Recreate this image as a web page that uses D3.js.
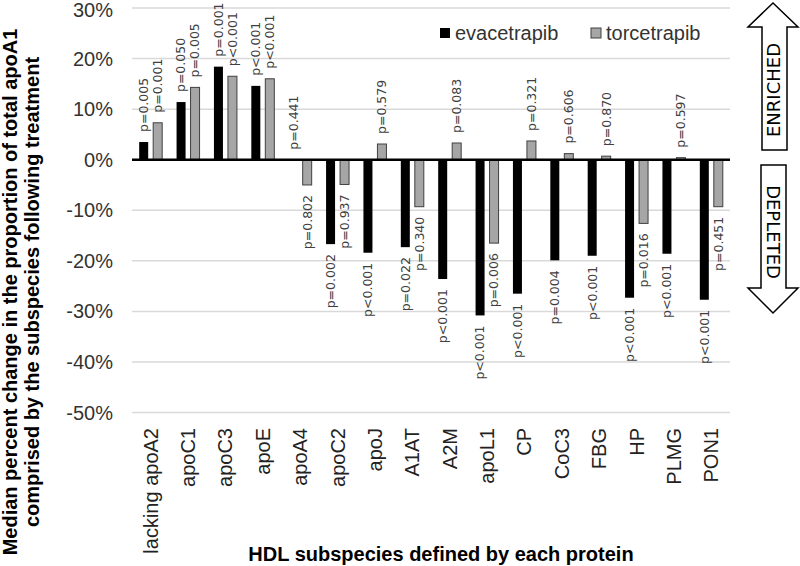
<!DOCTYPE html>
<html>
<head>
<meta charset="utf-8">
<script src="https://cdn.jsdelivr.net/npm/d3@7"></script>
<style>
  html, body { margin: 0; padding: 0; background: #fff; }
  svg { display: block; }
</style>
</head>
<body>
<script>
// ---- data ----
const categories = ["lacking apoA2","apoC1","apoC3","apoE","apoA4","apoC2","apoJ","A1AT","A2M","apoL1","CP","CoC3","FBG","HP","PLMG","PON1"];
const evacetrapib = [3.5, 11.4, 18.4, 14.6, 0, -16.7, -18.4, -17.3, -23.6, -30.8, -26.5, -19.9, -19.0, -27.3, -18.6, -27.7];
const torcetrapib = [7.3, 14.3, 16.5, 16.0, -5.0, -4.9, 3.1, -9.3, 3.3, -16.5, 3.7, 1.2, 0.7, -12.6, 0.4, -9.3];
const pEvacetrapib = ["p=0.005","p=0.050","p=0.001","p<0.001","p=0.441","p=0.002","p<0.001","p=0.022","p<0.001","p<0.001","p<0.001","p=0.004","p<0.001","p<0.001","p<0.001","p<0.001"];
const pTorcetrapib = ["p=0.001","p=0.005","p<0.001","p<0.001","p=0.802","p=0.937","p=0.579","p=0.340","p=0.083","p=0.006","p=0.321","p=0.606","p=0.870","p=0.016","p=0.597","p=0.451"];
const seriesNames = ["evacetrapib","torcetrapib"];
const yTicks = [30, 20, 10, 0, -10, -20, -30, -40, -50];

const W = 800, H = 566;
const svg = d3.select("body").append("svg").attr("width", W).attr("height", H);

const x = d3.scaleBand().domain(categories).range([132, 730]);
const xs = d3.scaleBand().domain(seriesNames).range([0, x.bandwidth()]).paddingInner(0.357).paddingOuter(0.514);
const y = d3.scaleLinear().domain([-50, 30]).range([412.5, 8]);

const fills = { evacetrapib: "#000000", torcetrapib: "#a6a6a6" };
const rows = categories.map((c, i) => ({
  cat: c,
  vals: [
    { s: "evacetrapib", v: evacetrapib[i], p: pEvacetrapib[i] },
    { s: "torcetrapib", v: torcetrapib[i], p: pTorcetrapib[i] }
  ]
}));

// gridlines
svg.append("g").selectAll("line").data(yTicks.filter(t => t !== 0)).join("line")
  .attr("x1", 132).attr("x2", 730)
  .attr("y1", d => y(d)).attr("y2", d => y(d))
  .attr("stroke", "#d9d9d9").attr("stroke-width", 1.5);

// y tick labels
svg.append("g").selectAll("text").data(yTicks).join("text")
  .attr("x", 113).attr("y", d => Math.max(y(d), 10)).attr("dy", "0.35em")
  .attr("text-anchor", "end")
  .attr("font-family", "Liberation Sans, Arial, sans-serif")
  .attr("font-size", 20).attr("fill", "#333")
  .text(d => d + "%");

// bars
const groups = svg.append("g").selectAll("g").data(rows).join("g")
  .attr("transform", d => `translate(${x(d.cat)},0)`);

groups.selectAll("rect").data(d => d.vals).join("rect")
  .attr("x", d => xs(d.s))
  .attr("width", xs.bandwidth())
  .attr("y", d => Math.min(y(d.v), y(0)))
  .attr("height", d => Math.abs(y(d.v) - y(0)))
  .attr("fill", d => fills[d.s])
  .attr("stroke", d => d.s === "torcetrapib" ? "#404040" : "none")
  .attr("stroke-width", 1);

// p-value labels
groups.selectAll("text").data(d => d.vals).join("text")
  .attr("transform", d => {
    const cx = xs(d.s) + xs.bandwidth() / 2;
    const yy = d.v >= 0 ? y(d.v) - 10 : y(d.v) + 10;
    return `translate(${cx},${yy}) rotate(-90)`;
  })
  .attr("dy", "0.35em")
  .attr("text-anchor", d => d.v >= 0 ? "start" : "end")
  .attr("font-family", "DejaVu Sans, Verdana, sans-serif")
  .attr("font-size", 12.5).attr("fill", "#404040")
  .text(d => d.p);

// zero line
svg.append("line")
  .attr("x1", 132).attr("x2", 730)
  .attr("y1", y(0)).attr("y2", y(0))
  .attr("stroke", "#000").attr("stroke-width", 2.5);

// x tick labels
svg.append("g").selectAll("text").data(categories).join("text")
  .attr("transform", d => `translate(${x(d) + x.bandwidth() / 2},428) rotate(-90)`)
  .attr("dy", "0.35em")
  .attr("text-anchor", "end")
  .attr("font-family", "Liberation Sans, Arial, sans-serif")
  .attr("font-size", 20).attr("fill", "#222")
  .text(d => d);

// axis titles
svg.append("text")
  .attr("x", 441).attr("y", 561)
  .attr("text-anchor", "middle")
  .attr("font-family", "Liberation Sans, Arial, sans-serif")
  .attr("font-size", 20).attr("font-weight", "bold").attr("fill", "#000")
  .text("HDL subspecies defined by each protein");

const yTitle = ["Median percent change in the proportion of total apoA1",
                "comprised by the subspecies following treatment"];
svg.append("g").selectAll("text").data(yTitle).join("text")
  .attr("transform", (d, i) => `translate(${10 + i * 22},292) rotate(-90)`)
  .attr("dy", "0.35em")
  .attr("text-anchor", "middle")
  .attr("font-family", "Liberation Sans, Arial, sans-serif")
  .attr("font-size", 20).attr("font-weight", "bold").attr("fill", "#000")
  .text(d => d);

// legend
const legendX = [440, 591];
const lg = svg.append("g").selectAll("g").data(seriesNames).join("g")
  .attr("transform", (d, i) => `translate(${legendX[i]},28)`);
lg.append("rect").attr("width", 10).attr("height", 10)
  .attr("fill", d => fills[d])
  .attr("stroke", d => d === "torcetrapib" ? "#404040" : "none");
lg.append("text").attr("x", 15).attr("y", 5).attr("dy", "0.35em")
  .attr("font-family", "Liberation Sans, Arial, sans-serif")
  .attr("font-size", 20).attr("fill", "#333")
  .text(d => d);

// direction arrows
const arrows = svg.append("g").attr("fill", "#fff").attr("stroke", "#000").attr("stroke-width", 1.5);
arrows.append("path").attr("d", "M773,3 L798,27 L787,27 L787,150 L762,150 L762,27 L748,27 Z");
arrows.append("path").attr("d", "M761,165 L786,165 L786,288 L798,288 L773,313 L748,288 L761,288 Z");
svg.append("text")
  .attr("transform", "translate(774,90) rotate(-90)")
  .attr("dy", "0.35em").attr("text-anchor", "middle")
  .attr("font-family", "DejaVu Sans, Verdana, sans-serif")
  .attr("font-size", 18).attr("fill", "#000")
  .text("ENRICHED");
svg.append("text")
  .attr("transform", "translate(773,232) rotate(90)")
  .attr("dy", "0.35em").attr("text-anchor", "middle")
  .attr("font-family", "DejaVu Sans, Verdana, sans-serif")
  .attr("font-size", 18).attr("fill", "#000")
  .text("DEPLETED");
</script>
</body>
</html>
